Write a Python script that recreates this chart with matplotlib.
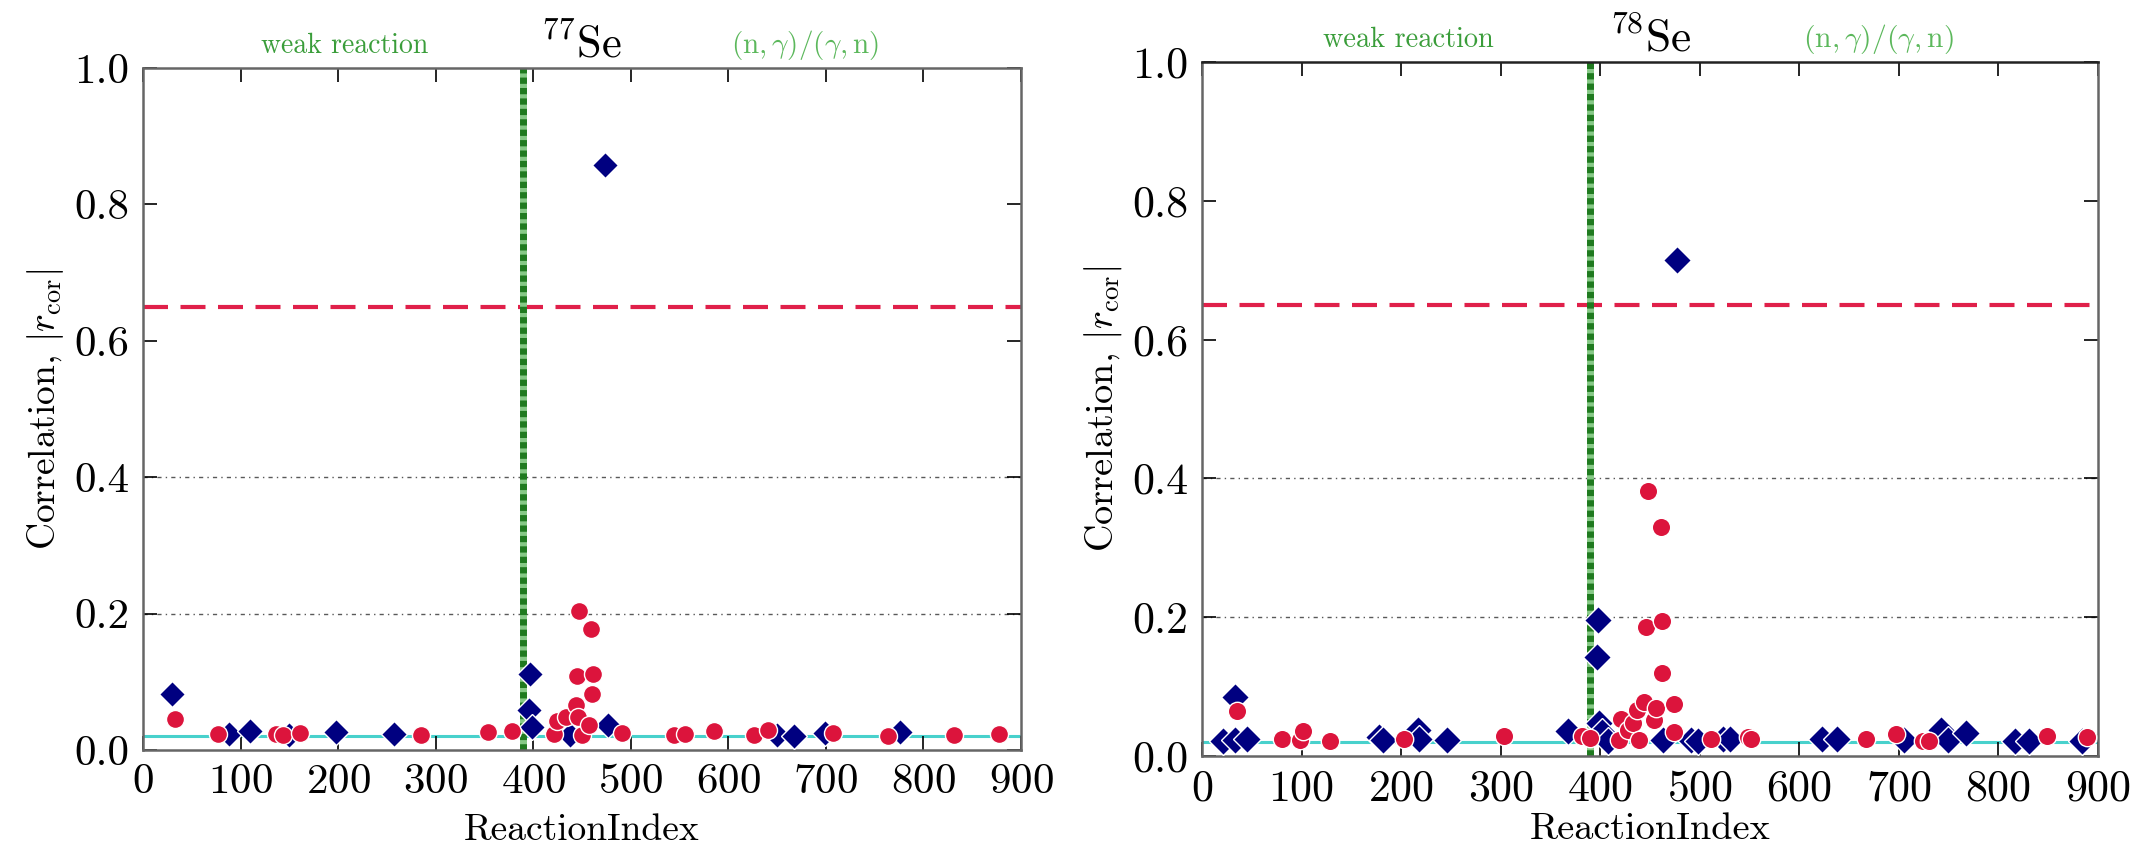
import matplotlib
matplotlib.use("Agg")
import matplotlib.pyplot as plt
import matplotlib.transforms as mtransforms

plt.rcParams['font.family'] = 'cmr10'
plt.rcParams['mathtext.fontset'] = 'cm'
plt.rcParams['axes.formatter.use_mathtext'] = True
plt.rcParams['axes.unicode_minus'] = False

# 77Se correlations
se77_d_x = [30, 88, 110, 150, 198, 257, 396, 397, 399, 438, 474, 477, 650, 667, 699, 776]
se77_d_y = [0.082, 0.024, 0.028, 0.022, 0.026, 0.024, 0.059, 0.112, 0.034, 0.022, 0.858, 0.037,
            0.022, 0.021, 0.025, 0.027]
se77_c_x = [33, 77, 136, 144, 161, 285, 354, 378, 421, 424, 434, 444, 445, 446, 447, 450, 457,
            459, 460, 461, 491, 544, 556, 585, 626, 641, 707, 764, 831, 877]
se77_c_y = [0.046, 0.024, 0.024, 0.022, 0.025, 0.022, 0.026, 0.028, 0.024, 0.042, 0.049, 0.066,
            0.109, 0.049, 0.204, 0.022, 0.037, 0.177, 0.082, 0.112, 0.025, 0.022, 0.023, 0.028,
            0.022, 0.029, 0.025, 0.021, 0.022, 0.024]

# 78Se correlations
se78_d_x = [21, 33, 33, 45, 178, 182, 217, 218, 246, 368, 397, 398, 399, 402, 408, 463, 477, 491,
            498, 523, 530, 623, 638, 705, 742, 749, 767, 817, 831, 884]
se78_d_y = [0.022, 0.085, 0.023, 0.025, 0.027, 0.023, 0.037, 0.025, 0.023, 0.036, 0.142, 0.196,
            0.047, 0.035, 0.021, 0.023, 0.714, 0.023, 0.021, 0.025, 0.025, 0.024, 0.024, 0.023,
            0.037, 0.023, 0.033, 0.022, 0.022, 0.022]
se78_c_x = [35, 80, 98, 101, 129, 203, 303, 382, 390, 419, 421, 428, 433, 437, 439, 444, 446, 448,
            454, 456, 461, 462, 462, 474, 474, 511, 548, 551, 667, 697, 724, 730, 849, 889]
se78_c_y = [0.065, 0.025, 0.023, 0.036, 0.022, 0.024, 0.029, 0.029, 0.026, 0.023, 0.054, 0.037,
            0.047, 0.066, 0.023, 0.078, 0.186, 0.382, 0.052, 0.069, 0.330, 0.195, 0.119, 0.075,
            0.034, 0.025, 0.028, 0.024, 0.025, 0.032, 0.021, 0.021, 0.029, 0.028]

threshold = 0.65
baseline = 0.02
split_index = 390
grid_levels = [0.2, 0.4]
xticks = list(range(0, 1000, 100))
yticks = [0.0, 0.2, 0.4, 0.6, 0.8, 1.0]


def panel(ax, dx, dy, cx, cy, title, s=1.0, xpad=9):
    for g in grid_levels:
        ax.axhline(g, color='0.35', lw=1.0, linestyle=(0, (3, 3, 1, 3)), zorder=1)
    ax.axhline(baseline, color='#48d1cc', lw=2.2, zorder=1)
    ax.axhline(threshold, color='#e0204a', lw=3, dashes=(6, 3), zorder=2)
    ax.axvline(split_index, color='#86c986', lw=5, zorder=2)
    ax.axvline(split_index, color='#1f7a1f', lw=5, dashes=(0.9, 0.6), zorder=2)

    ax.plot(dx, dy, 'D', color='#000080', ms=13.5 * s, mec='white', mew=1, zorder=3)
    ax.plot(cx, cy, 'o', color='#dc143c', ms=13 * s, mec='white', mew=1, zorder=4)

    ax.set_xlim(0, 900)
    ax.set_ylim(0, 1.0)
    ax.set_xticks(xticks)
    ax.set_yticks(yticks)
    ax.set_yticklabels(['%.1f' % v for v in yticks])
    ax.tick_params(direction='in', length=10, width=1.2, top=True, right=True,
                   labelsize=31 * s, pad=10)
    for sp in ax.spines.values():
        sp.set_color('#666666')
        sp.set_linewidth(1.8)

    ax.set_xlabel('ReactionIndex', fontsize=27 * s, labelpad=xpad)
    ax.set_ylabel(r'Correlation, $|r_{\rm cor}|$', fontsize=27 * s, labelpad=6)

    trans = mtransforms.blended_transform_factory(ax.transData, ax.transAxes)
    ax.text(207, 1.022, 'weak reaction', transform=trans, ha='center', va='baseline',
            fontsize=20 * s, color='#3a9d3a')
    ax.text(679, 1.022, r'$(\mathrm{n},\gamma)/(\gamma,\mathrm{n})$', transform=trans,
            ha='center', va='baseline', fontsize=21 * s, color='#5cb85c')
    ax.text(450, 1.015, title, transform=trans, ha='center', va='baseline',
            fontsize=32 * s, color='black')


fig = plt.figure(figsize=(21.43, 8.43), dpi=100)
ax1 = fig.add_axes([143 / 2143, 1 - 750 / 843, 878 / 2143, 682 / 843])
ax2 = fig.add_axes([1202 / 2143, 1 - 756 / 843, 896 / 2143, 694 / 843])

panel(ax1, se77_d_x, se77_d_y, se77_c_x, se77_c_y, r'$^{77}\mathrm{Se}$')
panel(ax2, se78_d_x, se78_d_y, se78_c_x, se78_c_y, r'$^{78}\mathrm{Se}$', s=1.02, xpad=2)
ax2.spines['top'].set_color('#222222')

fig.savefig('out.png', dpi=100)
